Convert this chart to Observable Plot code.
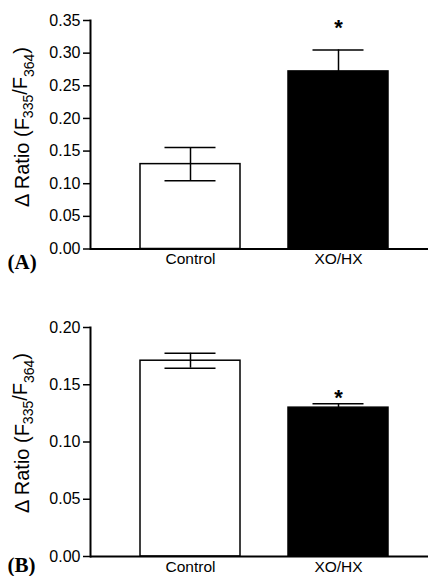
<!DOCTYPE html>
<html><head><meta charset="utf-8">
<script src="https://cdn.jsdelivr.net/npm/d3@7"></script>
<script src="https://cdn.jsdelivr.net/npm/@observablehq/plot@0.6"></script>
<style>body{margin:0;background:#fff} svg{display:block}</style>
</head><body><div id="chart"></div>
<script>
const categories = ["Control", "XO/HX"];
const barFills = ["white", "black"];
// Panel A
const meansA = [0.130, 0.272];
const semA = [0.0255, 0.033];
const significantA = [false, true];
const yTicksA = [0, 0.05, 0.10, 0.15, 0.20, 0.25, 0.30, 0.35];
// Panel B
const meansB = [0.171, 0.130];
const semB = [0.0065, 0.0033];
const significantB = [false, true];
const yTicksB = [0, 0.05, 0.10, 0.15, 0.20];
const panelLabels = ["(A)", "(B)"];
const yLabelParts = [["Δ Ratio (F", false], ["335", true], ["/F", false], ["364", true], [")", false]];

const sans = "'Liberation Sans', Arial, Helvetica, sans-serif";
const serif = "'Liberation Serif', 'Times New Roman', serif";

function panel({means, sems, sig, ticks, height, marginTop, marginBottom, label, labelDy, starDy, yLabelCy}) {
  const data = categories.map((c, i) => ({c, m: means[i], lo: means[i] - sems[i], hi: means[i] + sems[i], fill: barFills[i], sig: sig[i]}));
  const svg = Plot.plot({
    width: 437, height, marginLeft: 90, marginRight: 9, marginTop, marginBottom,
    style: {fontFamily: sans, fontSize: "16px", background: "white", color: "black", overflow: "visible"},
    color: {type: "identity"},
    x: {domain: categories, paddingInner: 0.325, paddingOuter: 0.3025, align: 0.56, label: null, axis: null},
    y: {domain: [ticks[0], ticks[ticks.length - 1]], label: null, axis: null},
    marks: [
      Plot.barY(data, {x: "c", y: "m", fill: "fill", stroke: "black", strokeWidth: 1.5}),
      Plot.ruleX(data, {x: "c", y1: "lo", y2: "hi", stroke: "black", strokeWidth: 1.5}),
      Plot.tickY(data, {x: "c", y: "hi", insetLeft: 24.5, insetRight: 24.5, stroke: "black", strokeWidth: 1.5}),
      Plot.tickY(data, {x: "c", y: "lo", insetLeft: 24.5, insetRight: 24.5, stroke: "black", strokeWidth: 1.5}),
      Plot.text(data.filter(d => d.sig), {x: "c", y: "hi", text: () => "*", dy: starDy, fontSize: 22, fontWeight: "bold", fill: "black"}),
      Plot.ruleY([0], {stroke: "black", strokeWidth: 2}),
      Plot.frame({anchor: "left", stroke: "black", strokeWidth: 2}),
      Plot.axisY({ticks, tickFormat: ".2f", tickSize: 7, tickPadding: 3, fontSize: 16, strokeWidth: 1.5, label: null}),
      Plot.axisX({tickSize: 0, tickPadding: 4, fontSize: 15.5, label: null}),
      Plot.text([label], {frameAnchor: "bottom-left", dx: -83, dy: labelDy, lineAnchor: "bottom", textAnchor: "start", fontFamily: serif, fontWeight: "bold", fontSize: 21, fill: "black"})
    ]
  });
  const t = d3.select(svg).append("text")
    .attr("transform", `translate(29,${yLabelCy}) rotate(-90)`)
    .attr("text-anchor", "middle")
    .attr("font-family", sans)
    .attr("font-size", 20)
    .attr("fill", "black");
  yLabelParts.forEach(([s, sub], i) => {
    const ts = t.append("tspan").text(s);
    if (sub) ts.attr("font-size", 14).attr("dy", i === 1 ? "0.3em" : "0.45em");
    else if (i > 0) ts.attr("dy", "-0.3em");
  });
  return svg;
}

const chart = document.getElementById("chart");
chart.append(panel({means: meansA, sems: semA, sig: significantA, ticks: yTicksA, height: 290, marginTop: 20, marginBottom: 41.5, label: panelLabels[0], labelDy: 20, starDy: -22, yLabelCy: 127}));
chart.append(panel({means: meansB, sems: semB, sig: significantB, ticks: yTicksB, height: 286, marginTop: 37, marginBottom: 20, label: panelLabels[1], labelDy: 15.5, starDy: -6, yLabelCy: 143}));
</script>
</body></html>
